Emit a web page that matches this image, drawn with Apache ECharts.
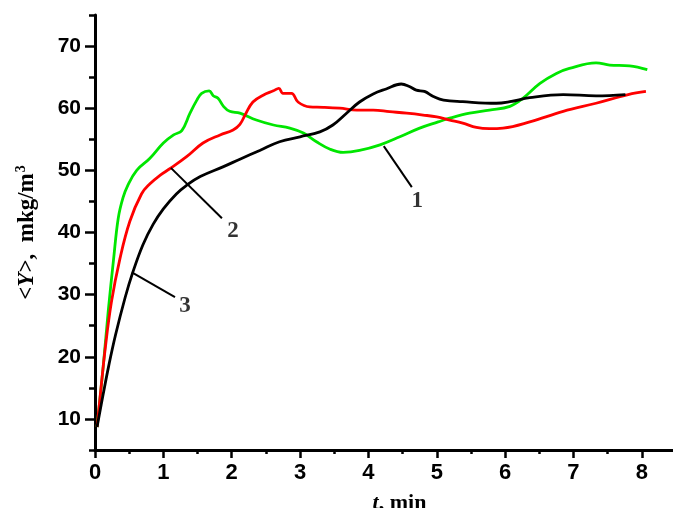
<!DOCTYPE html>
<html>
<head>
<meta charset="utf-8">
<script src="https://cdn.jsdelivr.net/npm/echarts@6/dist/echarts.min.js"></script>
<style>html,body{margin:0;padding:0;background:#fff}#c{width:673px;height:508px}</style>
</head>
<body>
<div id="c"></div>
<script>
// ---- data (t in min, <Y> in mkg/m3) ----
var t1 = [0.03,0.12,0.195,0.27,0.34,0.41,0.48,0.61,0.80,1.0,1.15,1.27,1.39,1.49,1.56,1.67,1.73,1.80,1.88,1.97,2.12,2.36,2.61,2.85,3.05,3.24,3.44,3.63,3.87,4.17,4.46,4.75,5.02,5.19,5.48,5.77,6.07,6.26,6.51,6.75,6.94,7.33,7.53,7.82,8.08];
var v1 = [8.7,18.4,27.5,35.5,42.3,45.6,47.6,50.0,51.9,54.4,55.7,56.4,59.2,61.3,62.4,62.8,62.0,61.6,60.3,59.5,59.2,58.1,57.3,56.8,56.0,54.6,53.4,52.9,53.2,54.1,55.4,56.8,57.8,58.4,59.2,59.7,60.3,61.6,64.0,65.6,66.4,67.3,66.95,66.8,66.2];

var t2 = [0.03,0.07,0.146,0.24,0.365,0.51,0.68,0.80,0.95,1.10,1.34,1.58,1.83,2.02,2.12,2.2,2.31,2.46,2.61,2.69,2.75,2.875,2.97,3.14,3.34,3.58,3.83,4.07,4.31,4.56,4.80,5.0,5.19,5.38,5.58,5.77,5.97,6.36,6.85,7.33,7.80,8.06];
var v2 = [8.7,13.0,21.0,28.8,35.8,41.8,46.2,47.8,49.2,50.3,52.2,54.4,55.7,56.5,57.4,59.0,61.0,62.1,62.8,63.2,62.4,62.4,61.0,60.2,60.15,60.0,59.7,59.7,59.45,59.2,58.9,58.6,58.1,57.6,56.9,56.7,56.8,57.8,59.5,60.8,62.2,62.7];

var t3 = [0.03,0.12,0.2,0.3,0.44,0.55,0.7,0.85,1.0,1.19,1.34,1.54,1.88,2.12,2.41,2.70,3.0,3.29,3.48,3.68,3.87,4.07,4.26,4.48,4.6,4.7,4.82,4.95,5.1,5.38,5.87,6.07,6.36,6.85,7.33,7.76];
var v3 = [8.7,14.0,18.5,23.5,29.5,33.5,38.0,41.3,43.8,46.2,47.6,49.0,50.6,51.8,53.2,54.6,55.4,56.2,57.3,59.2,61.0,62.3,63.1,63.9,63.5,62.9,62.7,61.9,61.3,61.05,60.8,61.05,61.7,62.2,62.0,62.2];

// curve labels and leader lines (data coordinates)
var curveNames = ['1','2','3'];
var labelT = [4.715, 2.02, 1.316];
var labelV = [45.07, 40.16, 28.2];
var leaderT = [[4.225,4.635],[1.11,1.857],[0.54,1.17]];
var leaderV = [[53.9,47.3],[50.4,42.3],[33.6,29.6]];

var yLabelValues = [10,20,30,40,50,60,70];
var xTicks = {min:0, max:8.5, interval:1};

function pairs(t, v){ return t.map(function(x,i){return [x, v[i]];}); }

var series = [
  {type:'line', data:pairs(t1,v1), showSymbol:false, smooth:0.4, lineStyle:{color:'#00e600', width:2.8}, z:3},
  {type:'line', data:pairs(t2,v2), showSymbol:false, smooth:0.4, lineStyle:{color:'#ff0000', width:2.8}, z:3},
  {type:'line', data:pairs(t3,v3), showSymbol:false, smooth:0.4, lineStyle:{color:'#000000', width:2.8}, z:3}
];
for (var k=0;k<3;k++){
  series.push({type:'line', data:pairs(leaderT[k], leaderV[k]), showSymbol:false, lineStyle:{color:'#000', width:2}, z:4});
}
series.push({
  type:'scatter', symbolSize:0, z:5,
  data: curveNames.map(function(n,i){return {name:n, value:[labelT[i], labelV[i]]};}),
  label:{show:true, position:'inside', formatter:'{b}', color:'#000', fontFamily:'Liberation Serif', fontWeight:'bold', fontSize:23}
});

var axisStyle = {color:'#000', width:3};
var option = {
  animation:false,
  backgroundColor:'#fff',
  grid:{left:95, right:-3, top:15, bottom:58, containLabel:false, outerBoundsMode:'none'},
  xAxis:{
    type:'value', min:xTicks.min, max:xTicks.max, interval:xTicks.interval,
    axisLine:{show:true, onZero:false, lineStyle:axisStyle},
    axisTick:{show:true, inside:false, length:8, lineStyle:{color:'#000', width:2.5}},
    minorTick:{show:true, splitNumber:2, length:4, lineStyle:{color:'#000', width:2.5}},
    splitLine:{show:false},
    axisLabel:{margin:12, color:'#000', fontFamily:'Liberation Sans', fontWeight:'bold', fontSize:22, showMaxLabel:false},
    name:'{i|t}{n|, min}', nameLocation:'middle', nameGap:42,
    nameTextStyle:{padding:[0,0,0,28], rich:{
      i:{fontFamily:'Liberation Serif', fontWeight:'bold', fontStyle:'italic', fontSize:22, color:'#000'},
      n:{fontFamily:'Liberation Serif', fontWeight:'bold', fontSize:22, color:'#000'}
    }}
  },
  yAxis:[{
    type:'value', min:5, max:75, interval:5,
    axisLine:{show:true, onZero:false, lineStyle:axisStyle},
    axisTick:{show:true, length:6, lineStyle:{color:'#000', width:2.5}},
    splitLine:{show:false},
    axisLabel:{margin:14, color:'#000', fontFamily:'Liberation Sans', fontWeight:'bold', fontSize:21,
      formatter:function(v){ return yLabelValues.indexOf(v) >= 0 ? String(v) : ''; }},
    name:'{n|<}{i|Y}{n|>,  mkg/m}{s|3}', nameLocation:'middle', nameGap:55,
    nameTextStyle:{rich:{
      n:{fontFamily:'Liberation Serif', fontWeight:'bold', fontSize:23, color:'#000'},
      i:{fontFamily:'Liberation Serif', fontWeight:'bold', fontStyle:'italic', fontSize:23, color:'#000'},
      s:{fontFamily:'Liberation Serif', fontWeight:'bold', fontSize:14, color:'#000', verticalAlign:'top', padding:[0,0,12,1]}
    }}
  },{
    type:'value', min:5, max:75, position:'left',
    axisLine:{show:false},
    axisTick:{show:true, length:10, customValues:yLabelValues, lineStyle:{color:'#000', width:2.5}},
    axisLabel:{show:false},
    splitLine:{show:false}
  }],
  series:series
};
var chart = echarts.init(document.getElementById('c'), null, {renderer:'canvas'});
chart.setOption(option);
</script>
</body>
</html>
